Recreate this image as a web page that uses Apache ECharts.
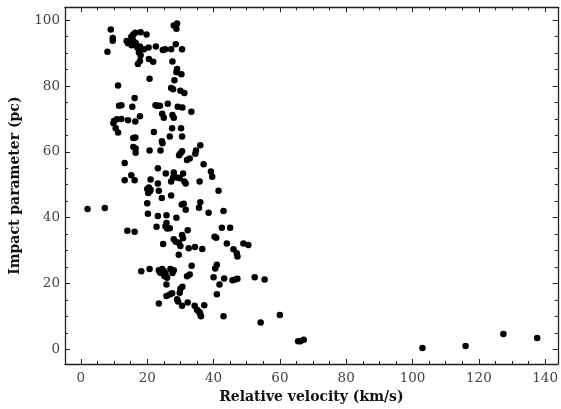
<!DOCTYPE html>
<html>
<head>
<meta charset="utf-8">
<script src="https://cdn.jsdelivr.net/npm/echarts@6/dist/echarts.min.js"></script>
<style>
  html, body { margin: 0; padding: 0; background: #fff; }
  #chart { width: 561px; height: 409px; }
</style>
</head>
<body>
<div id="chart"></div>
<script>
// relative velocity (km/s) and impact parameter (pc)
const velocity = [
  8.0, 9.0, 9.6, 9.6, 11.2, 13.8, 14.2, 15.2, 15.8, 16.4, 15.6, 16.5, 15.3, 17.0, 18.0, 19.8,
  17.8, 17.5, 18.0, 19.0, 20.4, 22.6, 17.2, 17.8, 20.5, 21.8, 20.7, 24.7, 25.4, 28.0, 29.0, 28.8,
  28.6, 27.2, 30.5, 27.6, 29.0, 28.8, 30.3, 28.2, 27.2, 27.8, 30.0, 31.2, 33.3, 11.5, 12.2, 15.5,
  16.2, 22.5, 23.0, 23.8, 26.2, 29.2, 30.6, 10.0, 9.8, 10.8, 12.2, 14.2, 16.4, 17.8, 10.5, 11.2,
  22.0, 24.5, 25.0, 27.6, 28.0, 27.5, 30.2, 30.5, 26.8, 24.4, 24.6, 15.8, 16.4, 15.8, 16.5, 16.5,
  20.7, 24.0, 30.0, 30.5, 29.6, 32.0, 32.8, 34.7, 36.0, 34.5, 37.0, 13.2, 15.2, 13.2, 16.2, 23.2,
  21.0, 23.2, 25.6, 27.2, 27.8, 28.0, 29.0, 29.8, 30.8, 31.2, 31.6, 35.8, 39.2, 39.6, 41.5, 20.0,
  20.5, 20.8, 20.3, 21.0, 23.5, 27.2, 2.0, 7.2, 20.0, 20.2, 23.2, 25.8, 24.4, 30.4, 31.0, 31.6,
  36.0, 35.6, 38.5, 43.0, 22.8, 25.5, 25.8, 26.0, 26.8, 28.8, 30.5, 32.2, 30.8, 28.0, 28.6, 29.5,
  24.8, 30.0, 32.5, 34.4, 36.6, 29.5, 14.0, 16.2, 40.3, 40.8, 42.5, 45.0, 44.0, 49.0, 50.5, 46.0,
  47.0, 47.2, 18.2, 20.7, 23.5, 23.8, 24.5, 25.0, 25.5, 26.0, 25.8, 27.0, 27.6, 28.0, 25.2, 24.2,
  33.4, 32.0, 32.8, 40.0, 40.5, 41.0, 41.8, 43.2, 45.7, 46.6, 47.2, 52.4, 55.4, 41.0, 25.8, 26.8,
  27.5, 30.0, 30.6, 29.8, 29.0, 29.3, 23.5, 30.5, 32.2, 34.3, 37.2, 35.0, 35.8, 36.0, 36.2, 35.4,
  43.0, 54.2, 60.0, 65.5, 66.2, 67.2, 103.0, 116.0, 127.4, 137.6
];
const impact = [
  90.4, 97.2, 94.6, 93.8, 80.2, 93.7, 93.0, 95.0, 95.7, 96.2, 94.2, 93.2, 92.4, 91.7, 96.4, 95.7,
  92.0, 90.2, 89.4, 91.2, 91.7, 92.0, 86.7, 87.6, 88.2, 87.4, 82.2, 91.0, 91.2, 98.4, 99.0, 97.4,
  92.7, 91.2, 91.2, 87.5, 85.2, 84.2, 83.6, 81.8, 79.4, 79.0, 78.6, 77.9, 72.2, 74.0, 74.2, 73.7,
  76.4, 74.2, 74.0, 74.0, 74.6, 73.7, 73.5, 69.4, 68.7, 69.9, 70.0, 69.6, 69.2, 70.8, 67.2, 65.9,
  66.0, 71.6, 70.4, 71.2, 70.4, 67.2, 67.2, 64.7, 64.7, 63.2, 62.6, 64.2, 64.4, 61.5, 61.0, 59.7,
  60.4, 60.4, 59.5, 60.2, 59.0, 57.5, 58.0, 60.4, 62.0, 59.4, 56.2, 56.6, 52.9, 51.4, 51.4, 55.0,
  51.6, 50.4, 53.4, 51.0, 52.2, 53.7, 52.2, 52.0, 53.4, 51.0, 50.4, 51.0, 54.0, 52.4, 48.2, 48.7,
  49.2, 48.0, 47.5, 48.5, 48.2, 46.7, 42.6, 42.9, 44.4, 41.2, 40.5, 40.7, 46.0, 44.0, 44.2, 42.4,
  44.7, 43.0, 41.5, 42.0, 37.2, 37.4, 38.4, 36.7, 36.8, 40.0, 34.7, 36.2, 33.7, 33.4, 32.7, 32.4,
  32.0, 31.4, 30.7, 31.1, 30.5, 28.7, 36.0, 35.7, 34.2, 33.9, 36.9, 36.9, 32.1, 32.1, 31.7, 30.4,
  29.2, 28.2, 23.7, 24.4, 24.0, 23.4, 24.4, 23.8, 23.0, 21.7, 19.7, 24.4, 23.2, 24.0, 22.2, 23.2,
  25.4, 22.2, 22.7, 21.9, 24.5, 25.7, 19.7, 21.5, 21.0, 21.2, 21.4, 21.9, 21.2, 16.7, 16.2, 16.6,
  17.0, 18.4, 19.0, 17.2, 15.2, 14.5, 13.9, 13.2, 14.2, 13.2, 13.4, 12.0, 11.2, 10.6, 10.0, 11.5,
  10.0, 8.1, 10.4, 2.4, 2.4, 2.9, 0.4, 1.0, 4.6, 3.4
];

const xMajor = [0, 20, 40, 60, 80, 100, 120, 140];
const yMajor = [0, 20, 40, 60, 80, 100];
const xMinor = [];
for (let v = 0; v <= 140; v += 5) if (v % 20 !== 0) xMinor.push(v);
const yMinor = [];
for (let v = 0; v <= 100; v += 5) if (v % 20 !== 0) yMinor.push(v);

const xRange = { min: -4.8, max: 143.8 };
const yRange = { min: -4.5, max: 103.95 };

const serif = '"DejaVu Serif", serif';
const frameColor = '#222';

function tickAxis(pos, range, values, len, withLine, withLabels, extra) {
  return Object.assign({
    type: 'value',
    position: pos,
    min: range.min,
    max: range.max,
    splitLine: { show: false },
    axisLine: { show: withLine, onZero: false, lineStyle: { color: frameColor, width: 1.3 } },
    axisTick: { show: true, inside: true, length: len, customValues: values,
      lineStyle: { color: frameColor, width: 1 } },
    axisLabel: withLabels
      ? { show: true, customValues: values, color: '#444', fontFamily: serif, fontSize: 13.5, margin: pos === 'bottom' ? 7 : 5 }
      : { show: false }
  }, extra || {});
}

const nameStyle = { color: '#111', fontFamily: serif, fontSize: 14, fontWeight: 'bold' };

const chart = echarts.init(document.getElementById('chart'));
chart.setOption({
  animation: false,
  backgroundColor: '#fff',
  grid: { left: 63.5, right: 1.7, top: 7.3, bottom: 40, containLabel: false },
  xAxis: [
    tickAxis('bottom', xRange, xMajor, 5, true, true, {
      name: 'Relative velocity (km/s)', nameLocation: 'middle', nameGap: 26, nameTextStyle: nameStyle
    }),
    tickAxis('bottom', xRange, xMinor, 3, false, false),
    tickAxis('top', xRange, xMajor, 5, true, false),
    tickAxis('top', xRange, xMinor, 3, false, false)
  ],
  yAxis: [
    tickAxis('left', yRange, yMajor, 5, true, true, {
      name: 'Impact parameter (pc)', nameLocation: 'middle', nameGap: 43, nameTextStyle: nameStyle
    }),
    tickAxis('left', yRange, yMinor, 3, false, false),
    tickAxis('right', yRange, yMajor, 5, true, false),
    tickAxis('right', yRange, yMinor, 3, false, false)
  ],
  series: [{
    type: 'scatter',
    xAxisIndex: 0,
    yAxisIndex: 0,
    symbol: 'circle',
    symbolSize: 6.5,
    itemStyle: { color: '#000', opacity: 1 },
    data: velocity.map((v, i) => [v, impact[i]])
  }]
});
</script>
</body>
</html>
